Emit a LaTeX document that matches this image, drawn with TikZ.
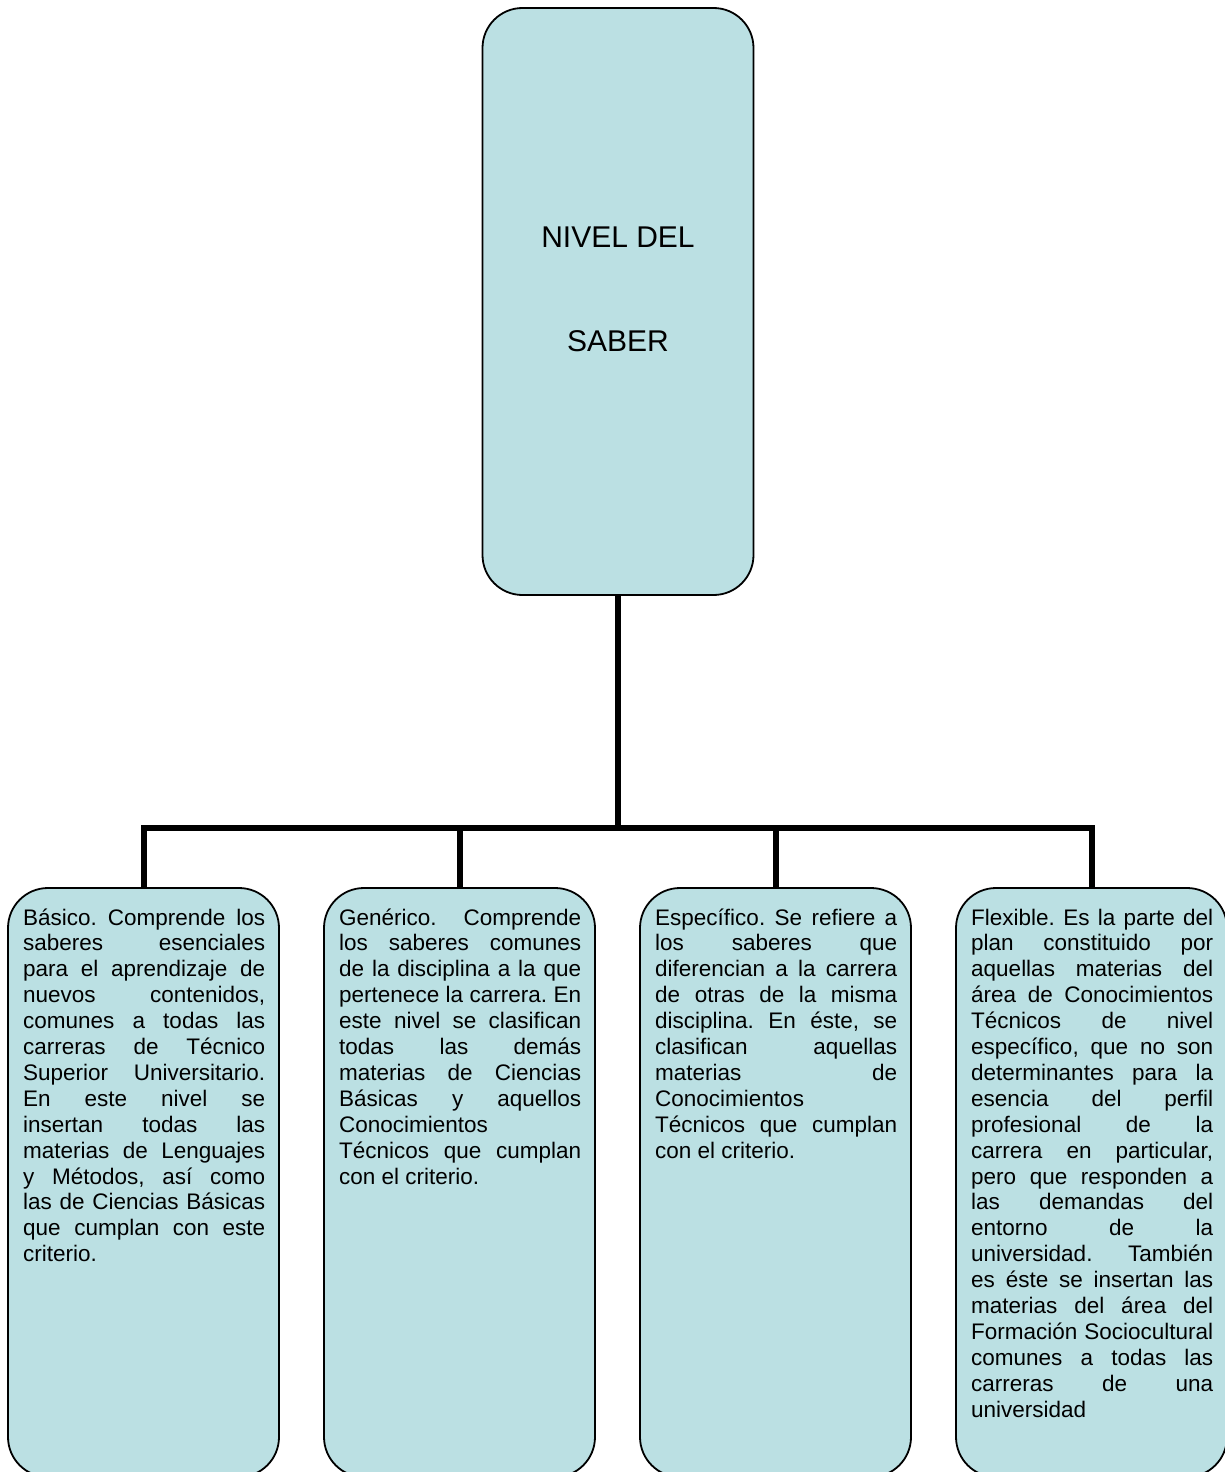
\documentclass[tikz,border=0pt]{standalone}
\usepackage{fontspec}
\setmainfont{Liberation Sans}
\usetikzlibrary{backgrounds}
\definecolor{boxfill}{RGB}{187,224,227}
\newcommand\jline[1]{\hbox to 242pt{#1}}
\newcommand\lline[1]{\hbox{#1}}
\newcommand\parabox[1]{\vtop{\hsize=242pt\fontsize{22.5pt}{25.9pt}\selectfont\frenchspacing\baselineskip=25.9pt\lineskiplimit=-20pt #1}}
\tikzset{
  box/.style={draw=black, line width=1.8pt, fill=boxfill, rounded corners=40pt,
    minimum width=271pt, inner sep=0pt},
  conn/.style={draw=black, line width=6pt, line join=miter},
  txt/.style={inner sep=0pt, anchor=base west, align=left},
  titletxt/.style={inner sep=0pt, anchor=base, font=\fontsize{30pt}{36pt}\selectfont}
}
\begin{document}
\begin{tikzpicture}[x=1pt,y=-1pt]
\useasboundingbox (0,0) rectangle (1225,1472);
% boxes
\node[box, minimum height=587pt] (top) at (618,301.5) {};
\node[box, minimum height=589pt] (b1) at (143.5,1182.5) {};
\node[box, minimum height=589pt] (b2) at (459.5,1182.5) {};
\node[box, minimum height=589pt] (b3) at (775.5,1182.5) {};
\node[box, minimum height=589pt] (b4) at (1091.5,1182.5) {};
\coordinate (j) at (618,828);
% connectors
\begin{pgfonlayer}{background}
\draw[conn] (top.south) -- (j);
\draw[conn] (b1.north) -- (b1.north |- j) -- (b4.north |- j) -- (b4.north);
\draw[conn] (b2.north |- j) -- (b2.north);
\draw[conn] (b3.north |- j) -- (b3.north);
\end{pgfonlayer}
% top texts
\node[titletxt] (tt1) at (618,247) {NIVEL DEL};
\node[titletxt] (tt2) at (618,351) {SABER};
% body texts
\node[txt] (t1) at (23,925) {\parabox{%
\jline{Básico. Comprende los}
\jline{saberes esenciales}
\jline{para el aprendizaje de}
\jline{nuevos contenidos,}
\jline{comunes a todas las}
\jline{carreras de Técnico}
\jline{Superior Universitario.}
\jline{En este nivel se}
\jline{insertan todas las}
\jline{materias de Lenguajes}
\jline{y Métodos, así como}
\jline{las de Ciencias Básicas}
\jline{que cumplan con este}
\lline{criterio.}}};
\node[txt] (t2) at (339,925) {\parabox{%
\jline{Genérico. Comprende}
\jline{los saberes comunes}
\jline{de la disciplina a la que}
\jline{pertenece la carrera. En}
\jline{este nivel se clasifican}
\jline{todas las demás}
\jline{materias de Ciencias}
\jline{Básicas y aquellos}
\lline{Conocimientos}
\jline{Técnicos que cumplan}
\lline{con el criterio.}}};
\node[txt] (t3) at (655,925) {\parabox{%
\jline{Específico. Se refiere a}
\jline{los saberes que}
\jline{diferencian a la carrera}
\jline{de otras de la misma}
\jline{disciplina. En éste, se}
\jline{clasifican aquellas}
\jline{materias de}
\lline{Conocimientos}
\jline{Técnicos que cumplan}
\lline{con el criterio.}}};
\node[txt] (t4) at (971,925) {\parabox{%
\jline{Flexible. Es la parte del}
\jline{plan constituido por}
\jline{aquellas materias del}
\jline{área de Conocimientos}
\jline{Técnicos de nivel}
\jline{específico, que no son}
\jline{determinantes para la}
\jline{esencia del perfil}
\jline{profesional de la}
\jline{carrera en particular,}
\jline{pero que responden a}
\jline{las demandas del}
\jline{entorno de la}
\jline{universidad. También}
\jline{es éste se insertan las}
\jline{materias del área del}
\jline{Formación Sociocultural}
\jline{comunes a todas las}
\jline{carreras de una}
\lline{universidad}}};
\end{tikzpicture}
\end{document}
